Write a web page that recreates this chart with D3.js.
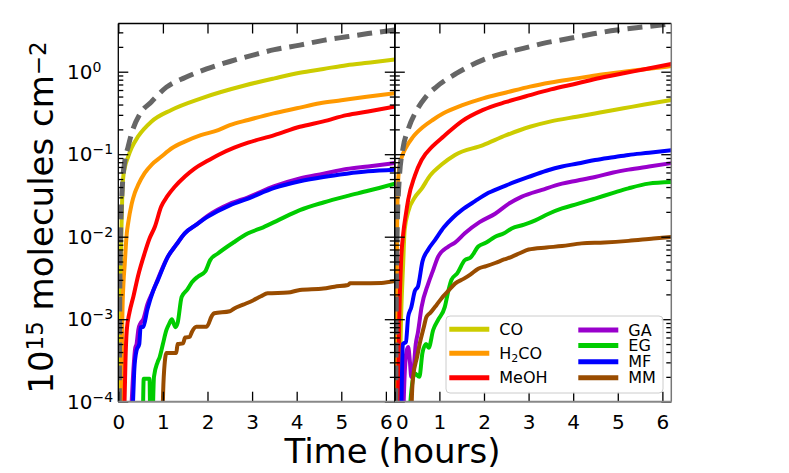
<!DOCTYPE html>
<html>
<head>
<meta charset="utf-8">
<script src="https://cdn.jsdelivr.net/npm/d3@7"></script>
<style>
  body { margin: 0; background: #fff; }
  text { font-family: "DejaVu Sans", sans-serif; fill: #000; }
</style>
</head>
<body>
<div id="chart"></div>
<script>
const species = ["CO", "H2CO", "MeOH", "GA", "EG", "MF", "MM"];
const xTicks = [0, 1, 2, 3, 4, 5, 6];
const yTickExp = [0, -1, -2, -3, -4];

// left panel, [hours, 1e15 molecules cm^-2]
const totalA = [[0.02,5e-5],[0.03,1e-3],[0.05,0.01],[0.09,0.04],[0.15,0.085],[0.22,0.123],[0.3,0.18],[0.49,0.31],[0.74,0.43],[1.08,0.65],[1.5,0.85],[1.98,1.08],[2.5,1.33],[3.02,1.59],[3.5,1.85],[4.07,2.1],[4.6,2.4],[5.12,2.65],[5.6,2.9],[6.2,3.2]];
const coA = [[0.04,5e-5],[0.05,1e-3],[0.06,5e-3],[0.08,0.02],[0.105,0.049],[0.15,0.07],[0.22,0.093],[0.3,0.12],[0.44,0.163],[0.74,0.248],[1.19,0.344],[1.86,0.476],[2.83,0.68],[3.5,0.83],[4.07,0.97],[4.6,1.08],[5.12,1.2],[5.7,1.3],[6.2,1.41]];
const h2coA = [[0.07,5e-5],[0.09,1e-3],[0.12,3e-3],[0.14,4.3e-3],[0.19,0.011],[0.22,0.0145],[0.3,0.025],[0.37,0.034],[0.45,0.043],[0.59,0.059],[0.75,0.075],[0.96,0.093],[1.2,0.118],[1.49,0.142],[1.85,0.17],[2.24,0.196],[2.5,0.225],[2.91,0.26],[3.48,0.313],[4.0,0.36],[4.52,0.414],[5.0,0.45],[5.57,0.497],[6.2,0.547]];
const meohA = [[0.12,5e-5],[0.14,1e-4],[0.16,3e-4],[0.19,7.4e-4],[0.25,1.2e-3],[0.34,1.9e-3],[0.44,3.3e-3],[0.59,6.3e-3],[0.7,9.5e-3],[0.82,0.0132],[0.96,0.023],[1.1,0.031],[1.26,0.04],[1.5,0.054],[1.71,0.067],[1.98,0.082],[2.24,0.098],[2.6,0.12],[2.91,0.138],[3.5,0.17],[4.07,0.215],[4.6,0.25],[5.12,0.298],[5.6,0.33],[6.2,0.377]];
const gaA = [[0.27,5e-5],[0.3,1e-4],[0.34,2.5e-4],[0.38,4.5e-4],[0.41,5e-4],[0.45,7.5e-4],[0.5,9e-4],[0.56,1.0e-3],[0.65,1.5e-3],[0.78,2.2e-3],[0.89,3.1e-3],[1.11,5.7e-3],[1.3,8e-3],[1.49,0.011],[1.75,0.014],[2.01,0.018],[2.5,0.025],[2.91,0.03],[3.5,0.041],[4.07,0.051],[4.6,0.058],[5.12,0.066],[5.6,0.071],[6.2,0.078]];
const egA = [[0.55,5e-5],[0.57,1.9e-4],[0.7,1.9e-4],[0.72,5e-5],[0.76,5e-5],[0.8,2e-4],[0.88,3e-4],[0.93,3.5e-4],[1.0,5e-4],[1.08,7.4e-4],[1.15,9e-4],[1.2,1e-3],[1.28,8e-4],[1.33,9e-4],[1.42,1.86e-3],[1.55,2.3e-3],[1.65,2.8e-3],[1.79,3.3e-3],[1.95,3.8e-3],[2.06,5.2e-3],[2.24,6.3e-3],[2.58,8.5e-3],[2.91,0.011],[3.25,0.013],[3.6,0.016],[4.07,0.021],[4.6,0.026],[5.12,0.031],[5.6,0.036],[6.2,0.044]];
const mfA = [[0.3,5e-5],[0.33,1e-4],[0.36,2.5e-4],[0.41,4.2e-4],[0.47,5e-4],[0.5,8e-4],[0.56,8.1e-4],[0.65,1.3e-3],[0.78,2.2e-3],[0.89,3e-3],[1.11,5.7e-3],[1.3,8e-3],[1.49,0.011],[1.75,0.014],[2.01,0.0175],[2.5,0.024],[2.91,0.029],[3.5,0.039],[4.07,0.047],[4.6,0.053],[5.12,0.058],[5.6,0.062],[6.2,0.065]];
const mmA = [[0.99,5e-5],[1.0,1e-4],[1.03,2.5e-4],[1.08,3.9e-4],[1.3,3.9e-4],[1.33,5e-4],[1.45,5.1e-4],[1.5,6e-4],[1.6,6.1e-4],[1.65,7e-4],[1.75,8.1e-4],[1.98,8.1e-4],[2.1,1.1e-3],[2.15,1.18e-3],[2.5,1.25e-3],[2.6,1.35e-3],[2.8,1.5e-3],[3.03,1.7e-3],[3.2,1.9e-3],[3.35,2.06e-3],[3.8,2.1e-3],[4.07,2.26e-3],[4.6,2.35e-3],[4.85,2.48e-3],[5.15,2.6e-3],[5.2,2.72e-3],[5.9,2.75e-3],[6.2,2.9e-3]];

// right panel
const totalB = [[0.02,5e-5],[0.03,1e-3],[0.05,0.01],[0.1,0.05],[0.19,0.123],[0.3,0.2],[0.49,0.34],[0.7,0.5],[0.94,0.66],[1.39,0.96],[1.98,1.39],[2.4,1.65],[2.88,1.92],[3.4,2.25],[3.93,2.54],[4.45,2.88],[4.98,3.2],[5.6,3.5],[6.2,3.8]];
const coB = [[0.08,5e-5],[0.1,1e-4],[0.14,1e-3],[0.19,5e-3],[0.22,0.012],[0.3,0.02],[0.45,0.03],[0.6,0.038],[0.79,0.055],[1.05,0.075],[1.35,0.098],[1.98,0.129],[2.5,0.17],[3.03,0.215],[3.5,0.25],[4.08,0.285],[4.6,0.32],[5.13,0.36],[5.6,0.4],[6.2,0.454]];
const h2coB = [[0.03,5e-5],[0.04,1e-3],[0.05,0.01],[0.07,0.04],[0.1,0.07],[0.15,0.09],[0.26,0.123],[0.4,0.16],[0.64,0.215],[0.85,0.26],[1.09,0.313],[1.5,0.39],[1.98,0.476],[2.5,0.56],[3.03,0.66],[3.5,0.74],[4.08,0.83],[4.6,0.92],[5.13,1.0],[5.6,1.07],[6.2,1.17]];
const meohB = [[0.05,5e-5],[0.07,1e-4],[0.1,1e-3],[0.14,5e-3],[0.19,0.011],[0.25,0.019],[0.3,0.028],[0.45,0.055],[0.6,0.085],[0.85,0.125],[1.1,0.165],[1.5,0.25],[1.98,0.344],[2.5,0.43],[3.03,0.52],[3.5,0.61],[4.08,0.72],[4.6,0.84],[5.13,0.96],[5.6,1.07],[6.2,1.24]];
const gaB = [[0.19,5e-5],[0.2,1e-4],[0.26,4e-4],[0.3,4.6e-4],[0.34,3e-4],[0.37,2e-4],[0.41,2.2e-4],[0.47,5e-4],[0.52,7e-4],[0.6,1.4e-3],[0.75,2.7e-3],[0.85,3.8e-3],[0.97,5.7e-3],[1.2,7.6e-3],[1.35,8.5e-3],[1.57,0.011],[1.9,0.015],[2.25,0.019],[2.55,0.025],[2.85,0.0306],[3.3,0.037],[3.75,0.044],[4.1,0.048],[4.49,0.053],[4.9,0.06],[5.24,0.065],[5.7,0.071],[6.2,0.078]];
const egB = [[0.33,5e-5],[0.35,1e-4],[0.45,2.2e-4],[0.55,2e-4],[0.62,3.9e-4],[0.7,5e-4],[0.76,4.5e-4],[0.86,7.4e-4],[0.98,1e-3],[1.12,1.4e-3],[1.2,2.2e-3],[1.27,3e-3],[1.4,3.6e-3],[1.57,5.2e-3],[1.7,5.6e-3],[1.87,7.6e-3],[2.05,8.5e-3],[2.25,0.01],[2.45,0.011],[2.62,0.0126],[2.9,0.014],[3.15,0.0158],[3.45,0.019],[3.75,0.022],[4.1,0.025],[4.49,0.029],[4.9,0.034],[5.24,0.0386],[5.69,0.044],[6.2,0.046]];
const mfB = [[0.14,5e-5],[0.15,1e-4],[0.18,5e-4],[0.25,5.3e-4],[0.3,1.07e-3],[0.37,1.4e-3],[0.45,2.2e-3],[0.52,2.5e-3],[0.62,5e-3],[0.75,7e-3],[0.9,9.1e-3],[1.1,0.013],[1.3,0.017],[1.5,0.021],[1.8,0.027],[2.1,0.034],[2.5,0.042],[3.0,0.053],[3.4,0.063],[3.75,0.071],[4.1,0.077],[4.49,0.085],[4.9,0.092],[5.24,0.098],[5.7,0.104],[6.2,0.112]];
const mmB = [[0.37,5e-5],[0.38,1e-4],[0.41,2e-4],[0.5,3.5e-4],[0.56,5.1e-4],[0.65,8e-4],[0.71,1.07e-3],[0.8,1.2e-3],[0.94,1.5e-3],[1.05,1.8e-3],[1.2,2.2e-3],[1.35,2.7e-3],[1.55,3.1e-3],[1.7,3.5e-3],[1.87,4.1e-3],[2.05,4.4e-3],[2.25,4.8e-3],[2.45,5.3e-3],[2.62,5.7e-3],[2.8,6.3e-3],[3.0,7.0e-3],[3.4,7.4e-3],[3.75,7.7e-3],[4.19,8.3e-3],[4.7,8.5e-3],[5.24,8.9e-3],[5.8,9.5e-3],[6.2,0.0099]];

const colors = {
  CO: "#cccc00", H2CO: "#ff9900", MeOH: "#ff0000",
  GA: "#9900cc", EG: "#00cc00", MF: "#0000ff", MM: "#994c00"
};

const width = 789, height = 473;
const plotTop = 23.5, plotBottom = 401.7;
const panelW = 276.5;

const panels = [
  { left: 118.3, total: totalA, labels: true,
    series: { CO: coA, H2CO: h2coA, MeOH: meohA, GA: gaA, EG: egA, MF: mfA, MM: mmA } },
  { left: 394.8, total: totalB, labels: false,
    series: { CO: coB, H2CO: h2coB, MeOH: meohB, GA: gaB, EG: egB, MF: mfB, MM: mmB } }
];

const svg = d3.select("#chart").append("svg")
  .attr("width", width)
  .attr("height", height);

const y = d3.scaleLog().domain([1e-4, 3.84]).range([plotBottom, plotTop]);
const majorY = yTickExp.map(e => Math.pow(10, e));
const minorY = y.ticks().filter(v => !majorY.some(m => Math.abs(v / m - 1) < 1e-6));

panels.forEach(function(p, i) {
  const x = d3.scaleLinear().domain([0, 6.2]).range([p.left, p.left + panelW]);
  const line = d3.line()
    .x(d => x(d[0]))
    .y(d => y(d[1]))
    .curve(d3.curveMonotoneX);

  svg.append("defs").append("clipPath")
    .attr("id", "clip" + i)
    .append("rect")
    .attr("x", p.left).attr("y", plotTop)
    .attr("width", panelW).attr("height", plotBottom - plotTop);

  const g = svg.append("g").attr("clip-path", "url(#clip" + i + ")");
  species.forEach(function(s) {
    g.append("path")
      .datum(p.series[s])
      .attr("d", line)
      .style("fill", "none")
      .style("stroke", colors[s])
      .style("stroke-width", "4px")
      .style("stroke-linejoin", "round");
  });
  g.append("path")
    .datum(p.total)
    .attr("d", line)
    .style("fill", "none")
    .style("stroke", "#666666")
    .style("stroke-width", "5px")
    .style("stroke-dasharray", "15,8");

  // ticks point inward on all four sides
  const ax = svg.append("g").attr("transform", "translate(0," + plotBottom + ")")
    .call(d3.axisBottom(x).tickValues(xTicks).tickSize(-10).tickPadding(13.5).tickFormat(d3.format("d")));
  ax.selectAll("text").style("font-size", "20px")
    .attr("dx", d => (i === 1 && d === 0) ? 7 : 0);
  svg.append("g").attr("transform", "translate(0," + plotTop + ")")
    .call(d3.axisTop(x).tickValues(xTicks).tickSize(-10).tickFormat(""));

  [[d3.axisLeft, p.left], [d3.axisRight, p.left + panelW]].forEach(function(a) {
    svg.append("g").attr("transform", "translate(" + a[1] + ",0)")
      .call(a[0](y).tickValues(majorY).tickSize(-10).tickFormat(""));
    svg.append("g").attr("transform", "translate(" + a[1] + ",0)")
      .call(a[0](y).tickValues(minorY).tickSize(-5).tickFormat(""));
  });

  svg.selectAll(".domain").remove();
  svg.selectAll(".tick line").style("stroke", "#000").style("stroke-width", "1.3px");

  if (p.labels) {
    const lab = svg.append("g");
    yTickExp.forEach(function(e) {
      const t = lab.append("text")
        .attr("x", 67)
        .attr("y", y(Math.pow(10, e)))
        .attr("dy", "0.36em")
        .style("font-size", "20px");
      t.append("tspan").text("10");
      t.append("tspan").attr("dy", "-0.5em").style("font-size", "14px")
        .text(e < 0 ? "\u2212" + (-e) : String(e));
    });
  }

  // spines
  const sp = svg.append("g").style("fill", "none");
  sp.append("line").attr("x1", p.left).attr("x2", p.left + panelW).attr("y1", plotTop).attr("y2", plotTop)
    .style("stroke", "#000").style("stroke-width", "1.3px");
  sp.append("line").attr("x1", p.left).attr("x2", p.left).attr("y1", plotTop).attr("y2", plotBottom)
    .style("stroke", "#000").style("stroke-width", "1.3px");
  sp.append("line").attr("x1", p.left + panelW).attr("x2", p.left + panelW).attr("y1", plotTop).attr("y2", plotBottom)
    .style("stroke", i === 1 ? "#777" : "#000").style("stroke-width", "1.5px");
  sp.append("line").attr("x1", p.left).attr("x2", p.left + panelW).attr("y1", plotBottom).attr("y2", plotBottom)
    .style("stroke", "#888").style("stroke-width", "2px");
});

// axis titles
svg.append("text")
  .attr("x", 392.5).attr("y", 463)
  .attr("text-anchor", "middle")
  .style("font-size", "34px")
  .text("Time (hours)");

const yl = svg.append("text")
  .attr("transform", "translate(53,217.5) rotate(-90)")
  .attr("text-anchor", "middle")
  .style("font-size", "34px");
yl.append("tspan").text("10");
yl.append("tspan").attr("dy", "-0.45em").style("font-size", "23px").text("15");
yl.append("tspan").attr("dy", "0.3em").text(" molecules cm");
yl.append("tspan").attr("dy", "-0.3em").style("font-size", "23px").text("\u22122");

// legend, two columns
const leg = svg.append("g");
leg.append("rect")
  .attr("x", 446).attr("y", 316).attr("width", 217).attr("height", 77)
  .attr("rx", 4)
  .style("fill", "#fff").style("fill-opacity", 0.85)
  .style("stroke", "#cccccc").style("stroke-width", "1px");

const legCols = [
  { x: 449.3, rows: [329.3, 353.3, 377.7], names: species.slice(0, 3) },
  { x: 578.3, rows: [330, 345.5, 361.7, 377.7], names: species.slice(3) }
];
legCols.forEach(function(c) {
  c.names.forEach(function(s, k) {
    leg.append("line")
      .attr("x1", c.x).attr("x2", c.x + 40)
      .attr("y1", c.rows[k]).attr("y2", c.rows[k])
      .style("stroke", colors[s]).style("stroke-width", "5px");
    const t = leg.append("text")
      .attr("x", c.x + 50).attr("y", c.rows[k])
      .attr("dy", "0.36em")
      .style("font-size", "16px");
    if (s === "H2CO") {
      t.append("tspan").text("H");
      t.append("tspan").attr("dy", "0.3em").style("font-size", "11px").text("2");
      t.append("tspan").attr("dy", "-0.2em").text("CO");
    } else {
      t.text(s);
    }
  });
});
</script>
</body>
</html>
